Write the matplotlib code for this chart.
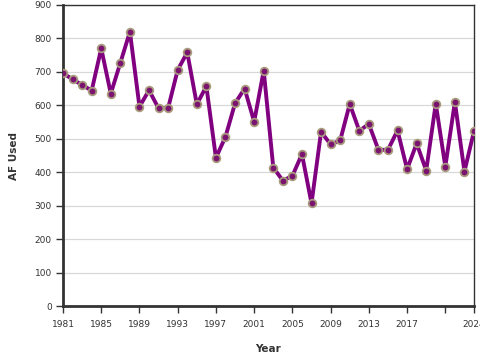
import matplotlib
matplotlib.use("Agg")
import matplotlib.pyplot as plt

years = list(range(1981, 2025))
af_used = [696, 678, 661, 644, 770, 635, 727, 820, 596, 645, 591, 592, 706, 758, 603,
           657, 443, 506, 606, 650, 551, 704, 414, 375, 389, 454, 307, 521, 483, 495,
           604, 524, 544, 467, 467, 525, 409, 486, 405, 605, 417, 610, 402, 523]
xticks = [1981, 1985, 1989, 1993, 1997, 2001, 2005, 2009, 2013, 2017, 2021, 2024]
xtick_labels = ["1981", "1985", "1989", "1993", "1997", "2001", "2005", "2009", "2013", "2017", "", "2024"]
yticks = list(range(0, 1000, 100))

fig = plt.figure(figsize=(4.8, 3.6), dpi=100)
ax = fig.add_axes([63/480, 54/360, 411/480, 301/360])

ax.plot(years, af_used, color="#800080", linewidth=2.8, zorder=3,
        marker="o", markersize=5.5, markerfacecolor="#7a1470",
        markeredgecolor="#a89a7c", markeredgewidth=1.3)

ax.set_xlim(1981, 2024)
ax.set_ylim(0, 900)
ax.set_xticks(xticks)
ax.set_xticklabels(xtick_labels)
ax.set_yticks(yticks)
ax.grid(axis="y", color="#d8d8d8", linewidth=0.9, zorder=0)
ax.set_axisbelow(True)

for s in ["left", "bottom"]:
    ax.spines[s].set_linewidth(2)
    ax.spines[s].set_color("#333333")
for s in ["top", "right"]:
    ax.spines[s].set_linewidth(1)
    ax.spines[s].set_color("#333333")

ax.tick_params(axis="both", labelsize=6.5, colors="#333333", length=5, width=1)
ax.tick_params(axis="x", pad=5)
ax.tick_params(axis="y", pad=3)
ax.set_xlabel("Year", fontsize=7.5, fontweight="bold", color="#333333", labelpad=11)
ax.set_ylabel("AF Used", fontsize=7.5, fontweight="bold", color="#333333", labelpad=11)

fig.savefig("out.png", dpi=100)
